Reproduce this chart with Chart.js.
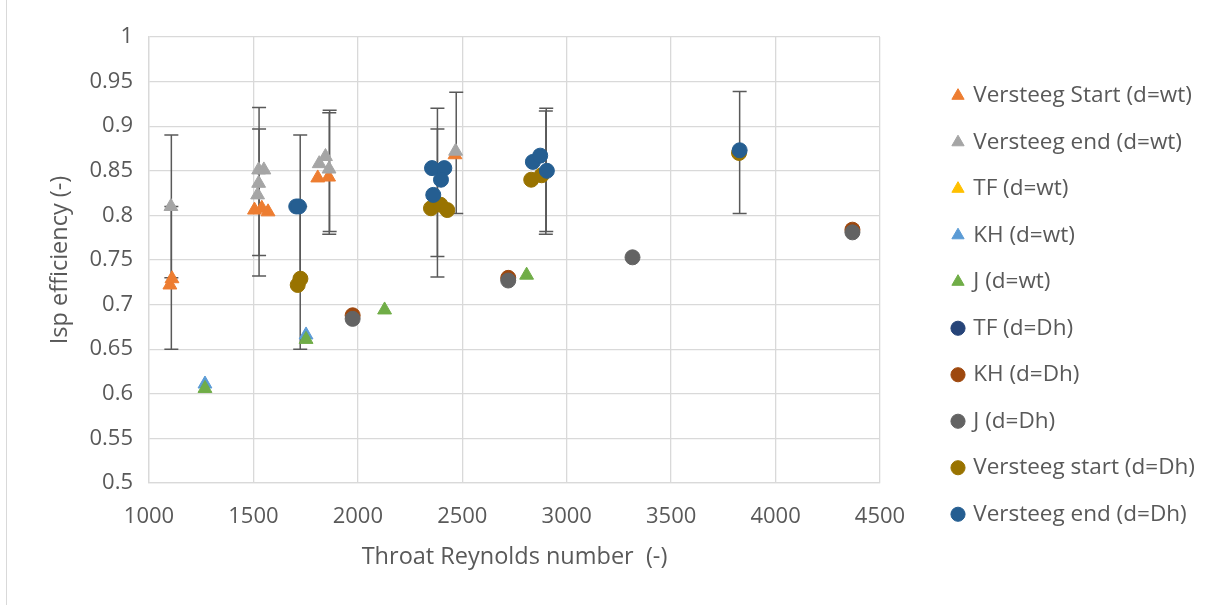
<!DOCTYPE html>
<html><head><meta charset="utf-8">
<script src="https://cdn.jsdelivr.net/npm/chart.js@4"></script>
<style>
html,body{margin:0;padding:0;background:#fff;overflow:hidden}
#wrap{position:relative;width:1207px;height:605px}
#frame{position:absolute;left:6px;top:-2px;width:1300px;height:700px;border-left:1px solid #d9d9d9;box-sizing:border-box}
canvas{position:absolute;left:0;top:0}
</style></head><body>
<div id="wrap"><div id="frame"></div><canvas id="c" width="1207" height="605"></canvas></div>
<script>
// ---- data ----
const seriesNames = ['Versteeg Start (d=wt)','Versteeg end (d=wt)','TF (d=wt)','KH (d=wt)','J (d=wt)',
  'TF (d=Dh)','KH (d=Dh)','J (d=Dh)','Versteeg start (d=Dh)','Versteeg end (d=Dh)'];

const vStartWtX = [1100, 1110, 1505, 1540, 1570, 1808, 1860, 2465];
const vStartWtY = [0.722, 0.729, 0.806, 0.808, 0.804, 0.842, 0.843, 0.868];

const vEndWtX = [1105, 1520, 1525, 1525, 1550, 1815, 1845, 1862, 2468];
const vEndWtY = [0.810, 0.823, 0.836, 0.851, 0.851, 0.858, 0.866, 0.852, 0.872];

const tfWtX = [];
const tfWtY = [];

const khWtX = [1268, 1752];
const khWtY = [0.611, 0.666];

const jWtX = [1268, 1752, 2128, 2808];
const jWtY = [0.606, 0.661, 0.694, 0.733];

const tfDhX = [];
const tfDhY = [];

const khDhX = [1975, 2720, 4368];
const khDhY = [0.688, 0.730, 0.784];

const jDhX = [1975, 2720, 3315, 4368];
const jDhY = [0.684, 0.727, 0.753, 0.781];

const vStartDhX = [1712, 1725, 2350, 2395, 2428, 2830, 2880, 3825];
const vStartDhY = [0.722, 0.729, 0.808, 0.812, 0.806, 0.840, 0.845, 0.870];

const vEndDhX = [1705, 1718, 2355, 2414, 2398, 2361, 2838, 2873, 2905, 3828];
const vEndDhY = [0.810, 0.810, 0.853, 0.853, 0.840, 0.823, 0.860, 0.867, 0.850, 0.873];

// error bars (x, low, high)
const errX    = [1107, 1107, 1527, 1527, 1724, 1724, 1863, 1865, 2381, 2381, 2471, 2900, 2902, 3828];
const errLow  = [0.650, 0.730, 0.732, 0.755, 0.650, 0.730, 0.779, 0.782, 0.731, 0.754, 0.802, 0.779, 0.782, 0.802];
const errHigh = [0.810, 0.890, 0.897, 0.921, 0.810, 0.890, 0.915, 0.918, 0.897, 0.920, 0.938, 0.917, 0.920, 0.939];

const xTickLabels = ['1000','1500','2000','2500','3000','3500','4000','4500'];
const yTickLabels = ['0.5','0.55','0.6','0.65','0.7','0.75','0.8','0.85','0.9','0.95','1'];

// ---- styling ----
const colors = ['#ED7D31','#A5A5A5','#FFC000','#5B9BD5','#70AD47','#264478','#9E480E','#636363','#997300','#255E91'];
const styles = ['triangle','triangle','triangle','triangle','triangle','circle','circle','circle','circle','circle'];
const xs = [vStartWtX, vEndWtX, tfWtX, khWtX, jWtX, tfDhX, khDhX, jDhX, vStartDhX, vEndDhX];
const ys = [vStartWtY, vEndWtY, tfWtY, khWtY, jWtY, tfDhY, khDhY, jDhY, vStartDhY, vEndDhY];

const FONT = 'Open Sans';
const TXT = '#595959';

const datasets = seriesNames.map((name, i) => ({
  label: name,
  data: xs[i].map((x, k) => ({x, y: ys[i][k]})),
  pointStyle: styles[i],
  backgroundColor: colors[i],
  borderColor: colors[i],
  borderWidth: 1,
  pointRadius: styles[i] === 'triangle' ? 8 : 7.5,
  order: -i
}));

const errorBars = {
  id: 'errorBars',
  beforeDatasetsDraw(chart) {
    const {ctx, scales: {x, y}} = chart;
    ctx.save();
    ctx.strokeStyle = '#595959';
    ctx.lineWidth = 1.5;
    for (let i = 0; i < errX.length; i++) {
      const px = x.getPixelForValue(errX[i]);
      const pl = y.getPixelForValue(errLow[i]);
      const ph = y.getPixelForValue(errHigh[i]);
      ctx.beginPath();
      ctx.moveTo(px, pl); ctx.lineTo(px, ph);
      ctx.moveTo(px - 7, pl); ctx.lineTo(px + 7, pl);
      ctx.moveTo(px - 7, ph); ctx.lineTo(px + 7, ph);
      ctx.stroke();
    }
    ctx.restore();
  }
};

new Chart(document.getElementById('c'), {
  type: 'scatter',
  data: {datasets},
  plugins: [errorBars],
  options: {
    responsive: false,
    animation: false,
    layout: {padding: {left: 46, top: 37, right: 7, bottom: 32}},
    plugins: {
      tooltip: {enabled: false},
      legend: {
        position: 'right',
        align: 'center',
        maxWidth: 270,
        labels: {
          usePointStyle: true,
          boxWidth: 8,
          boxHeight: 10,
          padding: 24,
          color: TXT,
          font: {family: FONT, size: 22.5},
          sort: (a, b) => a.datasetIndex - b.datasetIndex
        }
      }
    },
    scales: {
      x: {
        type: 'linear', min: 1000, max: 4500,
        ticks: {stepSize: 500, color: TXT, font: {family: FONT, size: 22}, padding: 21,
          callback: (v, i) => xTickLabels[i] ?? String(v)},
        grid: {color: '#d9d9d9', drawTicks: false, lineWidth: 1.3},
        border: {color: '#d9d9d9', width: 1.3},
        title: {display: true, text: 'Throat Reynolds number  (-)', color: TXT,
          font: {family: FONT, size: 23.5}, padding: {top: 0, bottom: 2}},
        afterFit(s) { s.height = 90; }
      },
      y: {
        type: 'linear', min: 0.5, max: 1,
        ticks: {stepSize: 0.05, color: TXT, font: {family: FONT, size: 22}, padding: 16,
          callback: (v, i) => yTickLabels[i] ?? String(v)},
        grid: {color: '#d9d9d9', drawTicks: false, lineWidth: 1.3},
        border: {color: '#d9d9d9', width: 1.3},
        title: {display: true, text: 'Isp efficiency (-)', color: TXT,
          font: {family: FONT, size: 23.5}, padding: {top: 0, bottom: 0}},
        afterFit(s) { s.width = 103; }
      },
      gap: {
        type: 'linear', position: 'right', display: true,
        ticks: {display: false}, grid: {display: false}, border: {display: false},
        afterFit(s) { s.width = 50; }
      }
    }
  }
});
</script>
</body></html>
